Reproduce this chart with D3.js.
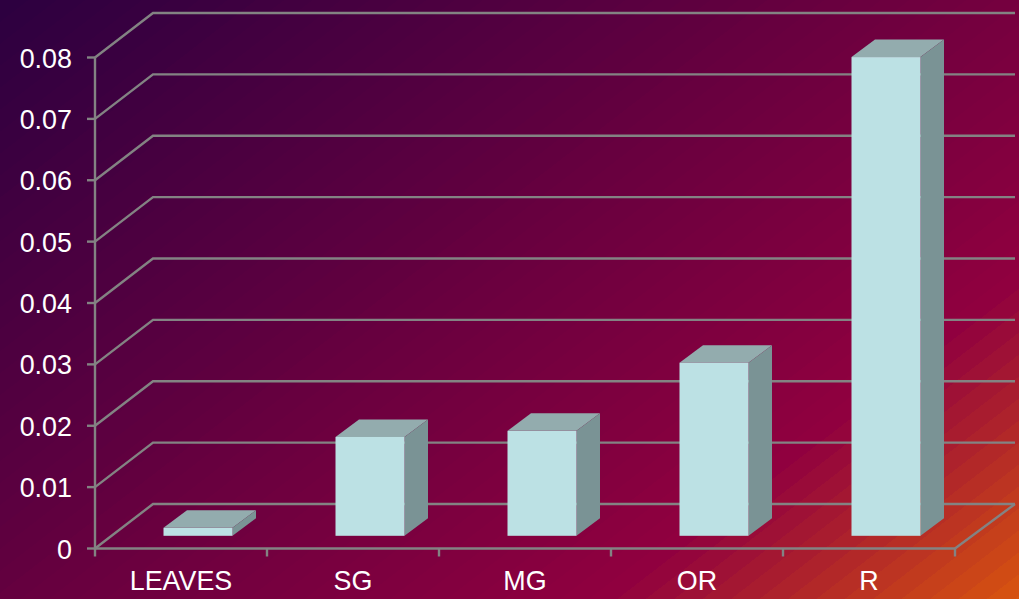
<!DOCTYPE html>
<html>
<head>
<meta charset="utf-8">
<script src="https://cdn.jsdelivr.net/npm/d3@7"></script>
<style>
html,body{margin:0;padding:0;background:#000;overflow:hidden}
svg{display:block}
text{font-family:"Liberation Sans",Arial,sans-serif;fill:#fff;font-size:26.9px}
</style>
</head>
<body>
<script>
// Stage categories and their measured values
const categories = ["LEAVES", "SG", "MG", "OR", "R"];
const values = [0.0013, 0.0161, 0.0171, 0.0282, 0.078];
const yTicks = [0, 0.01, 0.02, 0.03, 0.04, 0.05, 0.06, 0.07, 0.08];
const yTickLabels = ["0", "0.01", "0.02", "0.03", "0.04", "0.05", "0.06", "0.07", "0.08"];

const W = 1019, H = 599;
const frontLeft = 95, frontRight = 955, floorY = 548.5, topY = 57.5;
// Oblique projection: depth of the chart box and of each column
const depthX = 58, depthY = 44.5;
const barDepthX = 23.5, barDepthY = 17.5;
const barInsetX = 17, barInsetY = 12.7;
const barWidth = 69;

const x = d3.scaleBand().domain(categories).range([frontLeft, frontRight]);
const y = d3.scaleLinear().domain([0, 0.08]).range([floorY, topY]);

const svg = d3.select("body").append("svg").attr("width", W).attr("height", H);

// Stepped diagonal backdrop: purple through crimson to orange
const defs = svg.append("defs");
const grad = defs.append("linearGradient").attr("id", "bg")
  .attr("gradientUnits", "userSpaceOnUse")
  .attr("x1", 0).attr("y1", 0).attr("x2", 680).attr("y2", 880);
const shade = d3.scaleLinear()
  .domain([0, 0.76, 1])
  .range(["#2c0040", "#90003f", "#dc5a0c"])
  .interpolate(d3.interpolateRgb);
const bandCount = 64;
d3.range(bandCount).forEach(i => {
  const c = shade((i + 0.5) / bandCount);
  grad.append("stop").attr("offset", i / bandCount).attr("stop-color", c);
  grad.append("stop").attr("offset", (i + 1) / bandCount).attr("stop-color", c);
});

svg.append("rect").attr("width", W).attr("height", H).attr("fill", "url(#bg)");

const lineColor = "#838383";
const grid = svg.append("g").attr("fill", "none").attr("stroke", lineColor).attr("stroke-width", 2.4);

// Gridlines run along the left wall and across the back wall
grid.selectAll("path.gridline").data(yTicks).join("path")
  .attr("class", "gridline")
  .attr("d", d => {
    const p = d3.path();
    p.moveTo(frontLeft, y(d));
    p.lineTo(frontLeft + depthX, y(d) - depthY);
    p.lineTo(frontRight + depthX + 2, y(d) - depthY);
    return p.toString();
  });

// Floor edge on the right side
grid.append("path").attr("d", () => {
  const p = d3.path();
  p.moveTo(frontRight, floorY);
  p.lineTo(frontRight + depthX + 2, floorY - depthY);
  return p.toString();
});

// Value axis
grid.append("line").attr("x1", frontLeft).attr("x2", frontLeft).attr("y1", topY).attr("y2", floorY + 1);
grid.selectAll("line.ytick").data(yTicks).join("line")
  .attr("class", "ytick")
  .attr("x1", frontLeft - 8).attr("x2", frontLeft)
  .attr("y1", d => y(d)).attr("y2", d => y(d));

// Category axis
grid.append("line").attr("x1", frontLeft).attr("x2", frontRight).attr("y1", floorY).attr("y2", floorY);
const catEdges = categories.map(c => x(c)).concat(frontRight);
grid.selectAll("line.xtick").data(catEdges).join("line")
  .attr("class", "xtick")
  .attr("x1", d => d).attr("x2", d => d)
  .attr("y1", floorY).attr("y2", floorY + 8);

// Columns: front, top and side faces
const bars = svg.append("g").selectAll("g").data(categories.map((c, i) => ({c, v: values[i]}))).join("g");
const barX = d => x(d.c) + (x.bandwidth() - barWidth) / 2 + barInsetX;
const barBase = floorY - barInsetY;
const barTop = d => y(d.v) - barInsetY;

bars.append("path").attr("fill", "#93acae").attr("d", d => {
  const p = d3.path(), l = barX(d), t = barTop(d);
  p.moveTo(l, t);
  p.lineTo(l + barDepthX, t - barDepthY);
  p.lineTo(l + barWidth + barDepthX, t - barDepthY);
  p.lineTo(l + barWidth, t);
  p.closePath();
  return p.toString();
});
bars.append("path").attr("fill", "#7a9395").attr("d", d => {
  const p = d3.path(), r = barX(d) + barWidth, t = barTop(d);
  p.moveTo(r, t);
  p.lineTo(r + barDepthX, t - barDepthY);
  p.lineTo(r + barDepthX, barBase - barDepthY);
  p.lineTo(r, barBase);
  p.closePath();
  return p.toString();
});
bars.append("rect").attr("fill", "#bce1e4")
  .attr("x", barX).attr("y", barTop)
  .attr("width", barWidth).attr("height", d => barBase - barTop(d));

// Axis labels
svg.append("g").selectAll("text").data(yTicks).join("text")
  .attr("text-anchor", "end")
  .attr("x", 72).attr("y", d => y(d) + 10)
  .text((d, i) => yTickLabels[i]);

svg.append("g").selectAll("text").data(categories).join("text")
  .attr("text-anchor", "middle")
  .attr("x", d => x(d) + x.bandwidth() / 2)
  .attr("y", 590)
  .text(d => d);
</script>
</body>
</html>
